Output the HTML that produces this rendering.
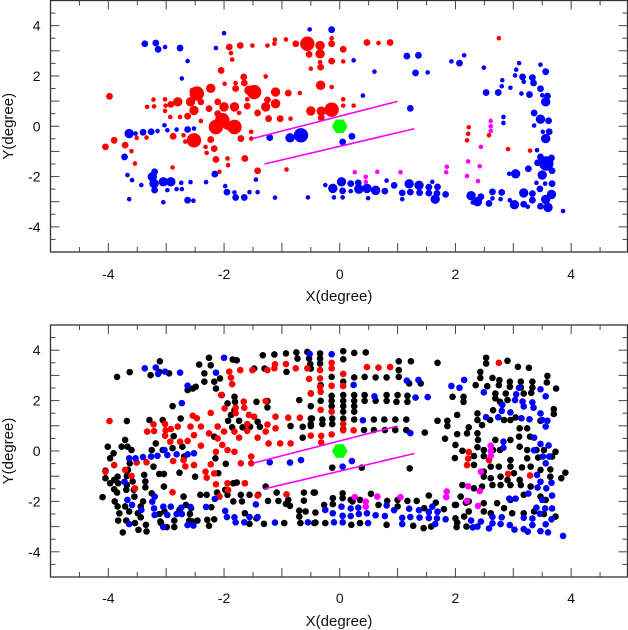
<!DOCTYPE html>
<html><head><meta charset="utf-8"><style>
html,body{margin:0;padding:0;background:#fff;}
svg{display:block;font-family:"Liberation Sans",sans-serif;}
</style></head><body>
<svg id="chart" width="628" height="630" viewBox="0 0 628 630" xmlns="http://www.w3.org/2000/svg"></svg>
<script>
// ===== data (degrees) =====
const xTicks = [-4,-2,0,2,4];
const yTicks = [-4,-2,0,2,4];
const xTickLabels = ["-4","-2","0","2","4"];
const yTickLabels = ["-4","-2","0","2","4"];
// [x, y, sizeClass]
const redPts = [[-3.98,1.19,2],[-4.05,-0.82,2],[-3.9,-0.56,2],[-3.71,-0.75,2],[-3.6,-0.99,1],[-3.54,-1.48,1],[-3.51,-0.46,1],[-3.34,-0.45,1],[-3.33,0.77,1],[-3.22,1.06,1],[-3.21,0.79,1],[-3.02,1.07,1],[-3.01,0.82,1],[-3.02,0.61,1],[-2.93,0.37,1],[-2.92,0.87,2],[-2.8,0.97,3],[-2.88,-0.4,2],[-2.89,-1.64,1],[-2.7,-0.36,1],[-2.67,-0.61,1],[-2.76,0.37,1],[-2.63,0.4,2],[-2.58,0.97,3],[-2.54,1.4,2],[-2.52,0.63,3],[-2.52,-0.56,4],[-2.47,1.3,4],[-2.4,0.97,2],[-2.4,0.21,1],[-2.32,-0.82,1],[-2.3,-1.06,1],[-2.26,0.7,2],[-2.23,1.51,3],[-2.23,-0.53,2],[-2.17,-0.89,2],[-2.14,-1.32,2],[-2.08,-1.81,1],[-2.11,0.97,2],[-2.11,0.5,2],[-2.14,-0.03,4],[-2.05,2.22,2],[-2.0,0.77,3],[-2.03,0.24,4],[-1.99,1.69,1],[-1.94,-1.28,1],[-1.93,-1.55,1],[-1.94,0.04,3],[-1.82,-0.03,4],[-1.82,0.77,3],[-1.88,2.91,1],[-1.86,2.65,1],[-1.91,3.15,2],[-1.8,1.72,1],[-1.8,1.5,2],[-1.74,0.53,1],[-1.72,3.21,2],[-1.71,-0.49,2],[-1.66,1.96,2],[-1.65,1.72,2],[-1.64,-1.28,2],[-1.6,1.07,1],[-1.6,0.8,2],[-1.57,1.43,3],[-1.51,3.21,1],[-1.53,-0.49,1],[-1.53,-0.22,1],[-1.48,1.36,4],[-1.42,0.53,2],[-1.42,-1.77,2],[-1.28,0.77,3],[-1.28,1.98,1],[-1.25,1.05,2],[-1.25,3.21,1],[-1.23,0.3,2],[-1.11,0.9,3],[-1.11,1.36,3],[-1.03,0.3,2],[-0.92,-1.72,1],[-0.89,1.32,2],[-0.85,0.3,1],[-0.69,1.32,1],[-0.93,3.45,1],[-0.76,3.28,2],[-0.56,3.28,4],[-0.53,2.86,2],[-0.5,2.29,1],[-0.5,0.61,3],[-1.12,3.44,1],[-1.13,3.28,1],[-0.34,3.21,3],[-0.34,2.88,3],[-0.34,2.55,1],[-0.33,2.35,2],[-0.33,1.63,3],[-0.14,3.28,2],[-0.14,3.5,1],[-0.14,2.59,2],[-0.14,1.56,1],[0.06,3.06,2],[0.06,2.58,1],[0.06,1.07,1],[0.06,0.82,1],[0.24,0.82,1],[0.47,3.33,2],[0.67,3.31,1],[0.87,3.33,2],[-0.32,0.6,3],[-0.32,0.34,2],[-0.14,0.66,4],[2.75,3.5,1],[2.23,-0.04,1],[2.22,-0.3,1],[2.2,-0.56,1],[2.58,-0.36,1],[2.91,-0.91,1],[3.29,-0.97,1]];
const bluePts = [[-3.37,3.28,2],[-3.18,3.31,2],[-3.14,3.06,2],[-3.02,3.15,1],[-2.76,3.11,2],[-2.63,2.59,1],[-2.73,1.9,1],[-2.0,3.7,1],[-2.14,3.11,1],[-3.64,-0.29,3],[-3.53,-0.29,1],[-3.4,-0.24,2],[-3.26,-0.22,2],[-3.15,-0.19,1],[-3.03,0.04,1],[-2.98,-0.16,1],[-2.82,-0.13,1],[-2.63,-0.13,2],[-2.52,-0.09,1],[-3.72,-1.22,2],[-3.67,-1.94,1],[-3.59,-2.14,1],[-3.64,-2.9,1],[-3.43,-2.34,1],[-3.24,-2.01,3],[-3.2,-1.81,2],[-3.21,-2.28,3],[-3.2,-2.54,2],[-3.05,-2.21,3],[-2.92,-2.21,3],[-2.98,-2.54,1],[-2.82,-2.5,1],[-2.74,-2.25,1],[-2.73,-2.5,1],[-3.05,-3.02,1],[-2.63,-2.94,2],[-2.53,-2.96,1],[-2.58,-2.22,1],[-2.31,-2.22,1],[-2.16,-1.9,2],[-1.98,-2.38,1],[-1.95,-2.62,2],[-1.82,-2.63,1],[-1.8,-2.83,2],[-1.65,-2.83,2],[-1.56,-2.62,1],[-1.42,-2.62,1],[-1.45,-2.12,1],[-1.21,-0.45,2],[-1.12,-2.84,1],[-0.86,-0.46,3],[-0.67,-0.36,4],[-0.55,-2.83,1],[-0.52,3.85,1],[-0.14,3.84,2],[0.24,2.62,1],[0.6,2.17,1],[0.4,1.22,1],[1.16,2.79,2],[1.36,2.82,2],[1.31,2.12,2],[1.52,2.14,1],[1.22,0.71,2],[0.21,-0.4,2],[0.05,-0.62,2],[1.93,2.58,1],[2.07,2.51,2],[2.15,2.82,1],[2.49,2.33,1],[2.53,1.34,2],[2.74,1.34,2],[2.81,1.83,1],[2.8,1.59,1],[2.95,1.53,1],[3.03,2.02,1],[3.05,2.25,1],[3.1,2.51,1],[3.16,1.96,2],[3.18,1.77,1],[3.14,1.3,1],[3.28,1.26,2],[3.33,1.93,2],[3.35,1.72,2],[3.47,2.45,1],[3.56,2.17,2],[3.47,1.49,2],[3.5,1.23,1],[3.59,1.2,2],[3.56,0.97,3],[2.83,0.37,1],[2.83,0.13,1],[3.36,0.53,2],[3.47,0.28,3],[3.61,0.22,2],[3.36,0.03,1],[3.51,-0.22,1],[3.62,-0.22,2],[3.56,-0.49,3],[3.41,-0.95,1],[3.47,-1.22,2],[3.42,-1.45,2],[3.57,-1.48,4],[3.66,-1.26,2],[3.67,-1.77,2],[3.5,-1.94,3],[3.26,-1.69,2],[3.04,-1.89,3],[2.93,-1.89,1],[3.4,-2.25,1],[3.55,-2.28,1],[3.67,-2.28,2],[3.46,-2.49,2],[3.18,-2.65,3],[3.33,-2.68,2],[3.66,-2.71,3],[3.56,-2.91,3],[3.6,-3.23,3],[3.47,-3.18,2],[3.33,-2.94,2],[3.18,-3.1,2],[3.02,-3.12,3],[2.94,-2.94,1],[2.8,-2.63,2],[2.64,-2.61,2],[2.64,-2.87,1],[2.78,-2.9,1],[2.58,-3.07,2],[2.44,-2.8,2],[2.38,-3.0,3],[2.27,-2.76,3],[2.3,-3.03,1],[3.86,-3.37,1],[3.25,-3.2,1],[-0.25,-2.34,1],[-0.12,-2.47,3],[0.03,-2.21,3],[0.05,-2.57,2],[-0.1,-2.83,1],[0.05,-2.83,1],[0.19,-2.28,2],[0.19,-2.58,1],[0.32,-2.25,2],[0.33,-2.5,3],[0.47,-2.47,3],[0.49,-2.86,1],[0.62,-2.55,3],[0.78,-2.58,2],[0.81,-2.16,1],[0.94,-2.35,2],[1.08,-2.65,2],[1.08,-2.9,1],[1.2,-2.29,3],[1.22,-2.62,2],[1.37,-2.35,3],[1.38,-2.64,2],[1.54,-2.42,2],[1.54,-2.66,2],[1.6,-2.21,1],[1.69,-2.41,2],[1.68,-2.67,2],[1.65,-2.9,3],[1.83,-2.71,2]];
const magentaPts = [[2.61,0.21,1],[2.61,0.0,1],[2.61,-0.19,1],[2.44,-0.82,1],[2.22,-1.4,1],[2.42,-1.59,1],[2.2,-1.98,1],[2.39,-2.18,1],[1.85,-1.61,1],[1.84,-1.83,1],[1.05,-1.83,1],[0.65,-1.81,1],[0.26,-1.83,1],[0.45,-2.01,1],[0.45,-2.21,1]];
const blackPts = [[-3.85,2.94],[-3.63,3.13],[-3.11,3.56],[-3.27,3.01],[-2.95,3.08],[-3.12,3.14],[-2.43,3.43],[-2.34,3.08],[-2.26,3.7],[-2.23,3.4],[-2.17,2.75],[-2.07,2.88],[-2.14,2.48],[-2.34,2.75],[-2.49,2.55],[-2.63,2.42],[-2.54,2.48],[-1.85,3.63],[-1.78,3.6],[-2.04,2.22],[-1.94,1.89],[-1.82,2.15],[-1.81,1.95],[-1.82,1.62],[-1.88,1.43],[-1.93,1.2],[-1.74,1.2],[-1.86,0.94],[-1.68,0.94],[-1.55,0.96],[-1.42,1.16],[-1.44,1.95],[-1.25,1.73],[-1.25,1.98],[-1.38,0.96],[-1.3,3.27],[-1.48,3.27],[-1.13,3.83],[-1.33,3.8],[-0.93,3.87],[-0.75,3.91],[-0.56,3.93],[-0.73,3.67],[-0.53,3.67],[-0.51,3.45],[-0.92,3.14],[-0.7,2.02],[-0.5,1.29],[-0.64,0.96],[-0.64,0.53],[-0.85,0.99],[-0.5,0.99],
[-4.01,0.17],[-3.97,-0.29],[-3.91,-0.09],[-4.05,-0.78],[-4.05,-1.08],[-3.97,-1.28],[-4.1,-1.83],[-3.9,-1.15],[-3.9,-1.52],[-3.85,-1.65],[-3.83,-1.28],[-3.84,-1.02],[-3.89,-2.0],[-3.84,-2.2],[-3.81,-2.47],[-3.83,-2.76],[-3.75,-3.23],[-3.69,-2.76],[-3.71,-2.2],[-3.69,-1.54],[-3.68,-1.35],[-3.77,0.17],[-3.71,0.44],[-3.67,0.17],[-3.63,-0.49],[-3.66,-0.75],[-3.68,-0.99],[-3.68,1.19],[-3.6,0.04],[-3.58,-1.21],[-3.56,-1.54],[-3.55,-1.81],[-3.64,-2.4],[-3.54,-2.86],[-3.48,-3.13],[-3.49,-2.47],[-3.44,-2.2],[-3.38,-0.95],[-3.36,-1.21],[-3.36,-1.44],[-3.4,-2.0],[-3.44,-2.63],[-3.35,-2.93],[-3.34,-3.19],[-3.29,1.23],[-3.25,0.04],[-3.22,-0.62],[-3.25,-1.68],[-3.12,-0.91],[-3.18,0.3],[-3.12,-2.5],[-3.1,-2.8],[-3.09,-2.86],[-3.04,-0.91],[-3.06,0.04],[-3.06,1.23],[-3.04,-1.41],[-3.03,-2.4],[-2.99,-3.02],[-2.89,0.11],[-2.87,0.59],[-2.86,-2.76],[-2.86,-3.02],[-2.89,1.78],[-2.77,-2.34],[-2.75,1.29],[-2.72,0.17],[-2.7,-1.81],[-2.69,-0.22],[-2.77,-0.86],[-2.66,-2.14],[-2.57,-2.27],[-2.6,-2.76],[-2.59,-2.5],[-2.54,-2.8],[-2.46,-2.76],[-2.5,-1.02],[-2.41,-1.74],[-2.3,-1.74],[-2.29,-2.73],[-2.26,-2.97],[-2.22,-2.23],[-2.17,-2.71],[-2.12,-1.65],[-2.17,0.57],[-2.15,-0.29],[-2.1,-0.88],[-1.97,-0.51],[-1.84,-1.28],[-1.78,-1.25],[-1.71,-1.74],[-1.69,-2.0],[-1.84,-2.0],[-1.94,-1.74],[-1.98,-1.54],[-1.64,-1.28],[-1.56,-1.74],[-1.64,-2.47],[-1.56,-2.89],[-1.44,-2.67],[-1.41,-1.74],[-1.31,-2.89],[-1.28,-1.41],[-1.24,-1.98],[-1.06,-1.98],[-1.09,-1.65],[-0.93,-2.1],[-0.89,-1.94],[-0.86,-2.18],[-0.96,-2.86],[-0.7,-2.37],[-0.7,-2.6],[-0.68,-2.86],[-0.62,-1.65],[-0.62,-1.97],[-0.59,-2.4],[-0.45,-1.65],[-0.44,-2.86],
[-0.34,3.87],[-0.34,3.67],[0.06,3.96],[0.06,3.64],[0.25,3.89],[0.45,3.91],[1.02,3.56],[1.23,3.56],[1.69,3.5],[-0.34,3.47],[-0.14,2.94],[0.06,2.75],[0.25,2.92],[0.43,2.94],[0.62,2.92],[0.81,2.92],[1.02,2.94],[1.02,3.21],[1.2,2.68],[1.4,2.68],[-0.33,2.61],[-0.33,1.99],[-0.14,2.19],[0.06,2.22],[0.06,1.99],[0.43,2.22],[0.62,1.99],[0.81,2.22],[1.0,2.22],[1.17,2.19],[-0.5,1.78],[0.06,1.78],[0.06,1.56],[0.25,1.56],[-0.48,1.29],[-0.3,1.25],[-0.13,1.29],[0.06,1.29],[0.25,1.25],[0.59,1.25],[0.77,1.25],[0.96,1.25],[1.15,1.25],[0.06,0.86],[0.59,0.83],[0.78,0.83],[0.96,0.83],[1.15,0.83],[1.47,0.73],[1.69,1.2],[-0.13,-0.66],[0.38,-0.66],[1.21,-0.69],[-0.43,-1.65],[-0.12,-1.87],[0.05,-1.68],[-0.27,-2.14],[-0.42,-2.44],[-0.42,-2.84],[-0.25,-2.86],[0.19,-1.94],[0.54,-1.7],[0.67,-2.14],[0.82,-1.98],[1.0,-1.94],[1.0,-2.2],[1.17,-1.98],[1.33,-1.98],[1.46,-2.27],[1.54,-1.77],[1.66,-2.05],[1.8,-2.31],[1.45,-3.06],[1.58,-3.0],[1.27,-2.97],[0.81,-2.93],[0.35,-2.86],[0.2,-2.93],[0.25,1.78],[0.25,1.99],[0.25,2.22],[0.43,1.99],[0.81,1.99],[0.98,1.95],[1.17,1.95],[-0.14,1.78],[-0.14,1.99],[-0.3,1.07],[-0.13,1.07],[-0.5,1.07],[0.42,0.83],[-0.12,-2.11],[0.05,-1.87],[0.22,-2.0],[0.35,-1.94],[-0.5,3.27],[-0.5,2.28],
[2.53,3.7],[2.53,3.47],[2.9,3.58],[3.08,3.34],[3.27,3.3],[2.43,3.14],[2.43,2.9],[2.64,2.9],[2.76,2.81],[2.75,2.61],[2.94,2.75],[2.94,2.55],[3.13,2.75],[3.13,2.52],[3.33,2.75],[3.33,2.52],[3.59,2.98],[3.58,2.72],[3.74,2.48],[2.35,2.61],[2.55,2.57],[2.69,2.28],[2.69,2.09],[2.77,1.95],[2.87,2.28],[2.9,2.02],[3.18,2.28],[3.31,2.31],[1.95,2.15],[2.14,2.15],[2.14,1.95],[2.65,1.62],[2.38,1.49],[2.38,1.23],[2.46,1.03],[2.6,1.23],[2.84,1.23],[2.95,1.23],[3.04,1.33],[3.11,0.9],[3.24,0.9],[3.47,1.2],[3.7,1.66],[3.7,1.47],[2.03,1.43],[1.86,1.2],[1.86,0.99],[2.23,0.94],[2.03,0.67],[2.2,0.7],[2.38,0.7],[2.39,0.44],[2.0,0.24],[1.82,0.49],[2.12,0.01],[1.99,-0.28],[2.32,-0.2],[2.32,-0.55],[2.38,0.15],[2.49,0.04],[2.49,-0.2],[2.65,0.04],[2.77,0.04],[2.69,0.44],[2.95,0.44],[3.1,0.57],[3.11,0.17],[3.24,0.04],[3.29,0.57],[3.24,-0.29],[2.95,-0.36],[2.95,-0.62],[2.75,-0.62],[2.61,-0.62],[2.49,-0.82],[2.49,-1.02],[2.61,-1.08],[2.78,-1.02],[2.9,-1.15],[3.15,-0.65],[3.3,-0.62],[3.01,-0.88],[3.11,-1.15],[3.47,-0.75],[3.64,-0.73],[3.64,-1.02],[3.83,-1.08],[3.9,-0.86],[3.73,-0.03],[3.67,-0.22],[3.53,0.04],[3.4,0.04],[3.43,-0.26],[3.3,-1.41],[3.13,-1.35],[2.95,-1.35],[2.78,-1.35],[2.64,-1.35],[2.46,-1.41],[2.32,-1.48],[2.12,-1.35],[2.09,-1.81],[2.01,-2.14],[2.23,-2.0],[2.49,-2.07],[2.72,-2.07],[2.95,-1.94],[3.18,-1.74],[3.47,-1.81],[3.56,-1.94],[2.23,-2.4],[2.49,-2.4],[2.61,-2.47],[2.84,-2.27],[2.98,-2.47],[3.18,-2.47],[3.36,-2.4],[3.53,-2.5],[3.73,-2.6],[2.0,-2.67],[2.03,-2.84],[2.19,-3.0],[2.02,-3.02],[2.15,-2.6],[1.99,-2.14],[2.18,-2.05]];
const centerPt = [0, 0];
const slitLines = [[[-1.49,-0.48],[1.0,0.99]],[[-1.3,-1.5],[1.29,-0.1]]];
const sizeRadius = {1:2.3, 2:3.4, 3:4.7, 4:7.2};

// ===== layout =====
const NS = "http://www.w3.org/2000/svg";
const svg = document.getElementById('chart');
const panels = [
  {name:'top', left:50.5, right:627.5, top:0.5, bottom:252, xLabelY:279, titleY:301, mode:'sized'},
  {name:'bottom', left:50.5, right:627.5, top:325, bottom:577, xLabelY:603, titleY:626, mode:'uniform'}
];
function mk(tag, attrs, parent){ const e=document.createElementNS(NS,tag); for(const k in attrs) e.setAttribute(k,attrs[k]); (parent||svg).appendChild(e); return e; }

panels.forEach(p=>{
  const sx = v => p.left + (v+5)/10*(p.right-p.left+1.5);
  const sy = v => p.bottom - (v+5)/10*(p.bottom-p.top);
  const g = mk('g',{});
  
  
  const frame = mk('rect',{x:p.left,y:p.top,width:p.right-p.left,height:p.bottom-p.top,fill:'none',stroke:'#333','stroke-width':1.3},g);
  
  
  for(let v=-5; v<=5.001; v+=0.5){
    const major = Math.abs(v-Math.round(v))<1e-6;
    const L = major?9:5;
    const X = sx(v), Y = sy(v);
    if(v>-5 && v<5){
      mk('line',{x1:X,y1:p.bottom,x2:X,y2:p.bottom-L,stroke:'#444','stroke-width':1},g);
      mk('line',{x1:X,y1:p.top,x2:X,y2:p.top+L,stroke:'#444','stroke-width':1},g);
      mk('line',{x1:p.left,y1:Y,x2:p.left+L,y2:Y,stroke:'#444','stroke-width':1},g);
      mk('line',{x1:p.right,y1:Y,x2:p.right-L,y2:Y,stroke:'#444','stroke-width':1},g);
    }
  }
  xTicks.forEach((v,i)=>{
    const t = mk('text',{x:sx(v),y:p.xLabelY,'text-anchor':'middle','font-size':14,fill:'#111'},g);
    
    
    t.textContent = xTickLabels[i];
  });
  yTicks.forEach((v,i)=>{
    const t = mk('text',{x:p.left-10,y:sy(v)+5,'text-anchor':'end','font-size':14,fill:'#111'},g);
    
    
    t.textContent = yTickLabels[i];
  });
  const xt = mk('text',{x:339,y:p.titleY,'text-anchor':'middle','font-size':15,fill:'#111'},g);
  
  
  xt.textContent = 'X(degree)';
  const cy = (p.top+p.bottom)/2;
  const yt = mk('text',{x:13,y:cy,'text-anchor':'middle','font-size':15,fill:'#111',transform:`rotate(-90 13 ${cy})`},g);
  
  
  yt.textContent = 'Y(degree)';

  const r = d => p.mode==='sized' ? sizeRadius[d[2]] : 3.3;
  function drawSet(arr, color, nm){
    arr.forEach(d=>{
      const c = mk('circle',{cx:sx(d[0]),cy:sy(d[1]),r:(d.length>2?r(d):3.3),fill:color},g);
      
      
    });
  }
  if(p.mode==='uniform') drawSet(blackPts,'#000',p.name+'-black-point');
  drawSet(redPts,'#ff0000',p.name+'-red-point');
  drawSet(bluePts,'#0000ff',p.name+'-blue-point');
  drawSet(magentaPts,'#ff00ff',p.name+'-magenta-point');
  slitLines.forEach(l=>{
    const ln = mk('line',{x1:sx(l[0][0]),y1:sy(l[0][1]),x2:sx(l[1][0]),y2:sy(l[1][1]),stroke:'#ff00ff','stroke-width':1.6},g);
    
    
  });
  const cx0=sx(centerPt[0]), cy0=sy(centerPt[1]), R=7.8;
  let pts=[]; for(let k=0;k<6;k++){const a=Math.PI/3*k; pts.push((cx0+R*Math.cos(a)).toFixed(1)+','+(cy0+R*Math.sin(a)).toFixed(1));}
  const hex = mk('polygon',{points:pts.join(' '),fill:'#00ff00'},g);
  
  
});
</script>
</body></html>
